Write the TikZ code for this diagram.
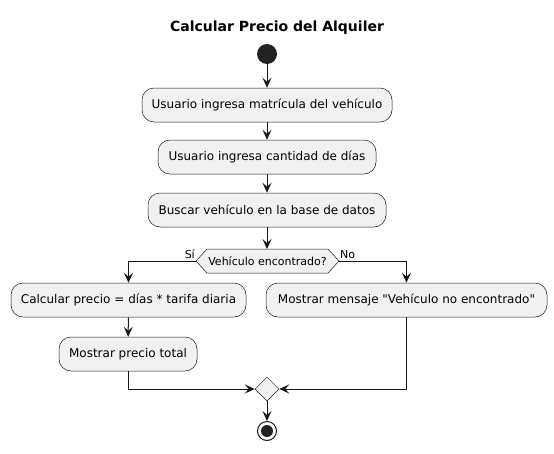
\documentclass[tikz,border=0pt]{standalone}
\usepackage{fontspec}
\setmainfont{DejaVu Sans}
\newfontfamily\plaindv{DejaVu Sans}
\usetikzlibrary{arrows.meta,shapes.geometric}
\definecolor{boxfill}{HTML}{F1F1F1}
\definecolor{boxline}{HTML}{181818}
\definecolor{dot}{HTML}{222222}
\begin{document}
\begin{tikzpicture}[x=1pt,y=-1pt,
  act/.style={draw=boxline,fill=boxfill,line width=0.5pt,rounded corners=12pt,minimum height=34pt,inner sep=0pt,font=\fontsize{12}{14}\selectfont},
  flow/.style={draw=boxline,line width=1pt,-{Stealth[length=10pt,width=9pt,inset=4pt]}},
  lbl/.style={font=\fontsize{11}{13}\selectfont,inner sep=0pt}]
\useasboundingbox (0,0) rectangle (554,453);
\node[font=\bfseries\fontsize{14}{16}\selectfont] (title) at (277,28) {Calcular Precio del Alquiler};
\node[circle,fill=dot,minimum size=20pt,inner sep=0pt] (start) at (267,54) {};
\node[act,minimum width=250pt] (b1) at (267,105) {Usuario ingresa matrícula del vehículo};
\node[act,minimum width=218pt] (b2) at (267,157) {Usuario ingresa cantidad de días};
\node[act,minimum width=238pt] (b3) at (267,210) {Buscar vehículo en la base de datos};
\draw[draw=boxline,fill=boxfill,line width=0.5pt] (196,261) -- (207,249) -- (328,249) -- (339,261) -- (328,273) -- (207,273) -- cycle;
\node[lbl] (dec) at (267.5,261) {Vehículo encontrado?};
\coordinate (decL) at (196,261);
\coordinate (decR) at (339,261);
\coordinate (decT) at (267,249);
\node[lbl,anchor=base east] (si) at (195,258) {Sí};
\node[lbl,anchor=base west] (no) at (340,258) {No};
\node[act,minimum width=235pt] (b4) at (128.5,300) {Calcular precio = días * tarifa diaria};
\node[act,minimum width=138pt] (b5) at (128,354) {Mostrar precio total};
\node[act,minimum width=281pt] (b6) at (406.5,300) {\plaindv Mostrar mensaje "Vehículo no encontrado"};
\node[draw=boxline,fill=boxfill,line width=0.5pt,diamond,minimum width=24pt,minimum height=24pt,inner sep=0pt] (merge) at (267,389) {};
\node[circle,draw=boxline,fill=white,line width=1pt,minimum size=19pt,inner sep=0pt] (end) at (267,431) {};
\node[circle,fill=dot,minimum size=12pt,inner sep=0pt] (endin) at (end) {};
\draw[flow] (start) -- (b1);
\draw[flow] (b1) -- (b2);
\draw[flow] (b2) -- (b3);
\draw[flow] (b3) -- (decT);
\draw[flow] (decL) -| (b4.north);
\draw[flow] (decR) -| (b6.north);
\draw[flow] (b4) -- (b5);
\draw[flow] (b5.south) |- (merge.west);
\draw[flow] (b6.south) |- (merge.east);
\draw[flow] (merge.south) -- (end);
\end{tikzpicture}
\end{document}
